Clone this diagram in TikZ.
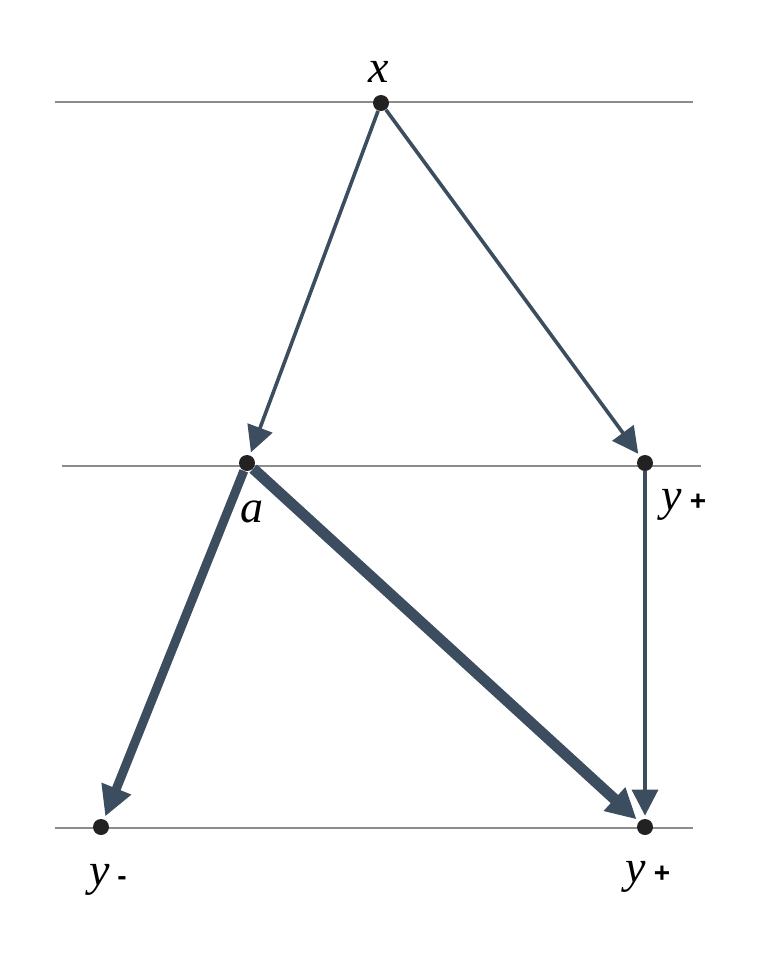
\documentclass[tikz,border=0pt]{standalone}
\usepackage{fontspec}
\setmainfont{Liberation Serif}
\setsansfont{Liberation Sans}
\usetikzlibrary{arrows.meta}
\definecolor{edgeblue}{HTML}{3B4D5E}
\definecolor{levelgray}{HTML}{8C8C8C}
\definecolor{dotblack}{HTML}{222222}
\tikzset{
  vertex/.style={circle,fill=dotblack,inner sep=0pt,minimum size=8pt},
  varlabel/.style={anchor=base,inner sep=0pt,font=\fontsize{23}{27}\selectfont\itshape},
  level/.style={levelgray,line width=0.8pt},
  thinedge/.style={edgeblue,line width=1.8pt,shorten >=1.5pt,-{Triangle[length=13pt,width=13pt]}},
  thickedge/.style={edgeblue,line width=4.5pt,shorten >=1.5pt,-{Triangle[length=15pt,width=15pt]}},
}
\newcommand{\sgn}[1]{\,{\upshape\sffamily\bfseries\fontsize{14}{16}\selectfont #1}}
\begin{document}
\begin{tikzpicture}[x=0.5pt,y=-0.5pt]
                \useasboundingbox (0,0) rectangle (760,960);
                %% levels
                \draw[level] (55,102) -- (693,102);
                \draw[level] (62,466) -- (701,466);
                \draw[level] (55,828) -- (693,828);
                %% vertices
                \node[vertex] (x) at (381,103) {};
                \node[vertex] (a) at (247,463) {};
                \node[vertex] (yp) at (645,463) {};
                \node[vertex] (ym) at (101,827) {};
                \node[vertex] (ypp) at (645,827) {};
                %% labels
                \node[varlabel] (xlab) at (379,82) {x};
                \node[varlabel] (alab) at (252,522) {a};
                \node[varlabel] (yplab) at (684,510) {y\sgn{+}};
                \node[varlabel] (ymlab) at (108,885) {y\sgn{-}};
                \node[varlabel] (ypplab) at (648,882) {y\sgn{+}};
                %% edges
                \draw[thinedge] (x) -- (a);
                \draw[thinedge] (x) -- (yp);
                \draw[thinedge] (yp) -- (ypp);
                \draw[thickedge,line width=4.5pt] (a) -- (ym);
                \draw[thickedge,line width=5.5pt] (a) -- (ypp);
            \end{tikzpicture}
\end{document}
